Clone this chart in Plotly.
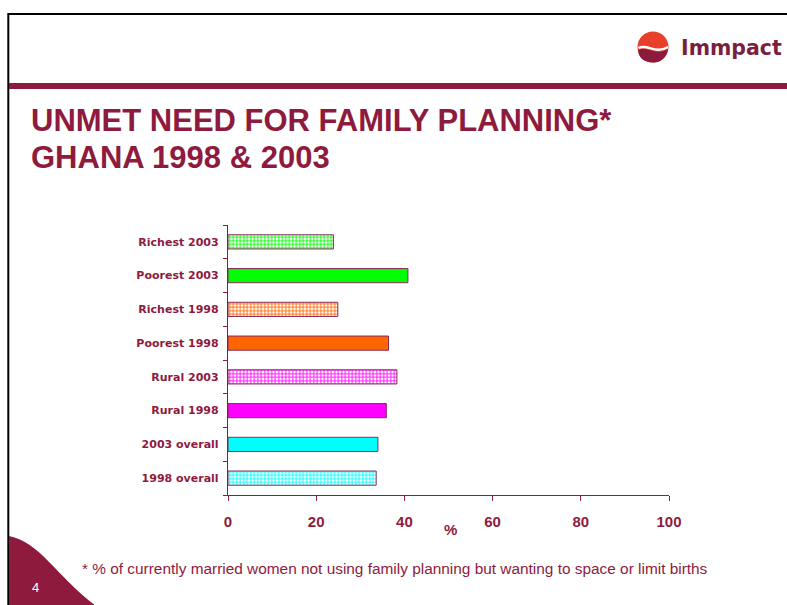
import plotly.graph_objects as go

categories = ["1998 overall", "2003 overall", "Rural 1998", "Rural 2003",
              "Poorest 1998", "Richest 1998", "Poorest 2003", "Richest 2003"]
values = [33.6, 34.0, 35.9, 38.3, 36.4, 24.9, 40.8, 23.9]
bar_colors = ["#00FFFF", "#00FFFF", "#FF00FF", "#FF00FF",
              "#FF6600", "#FF6600", "#00FF00", "#00FF00"]
hatched = [True, False, False, True, False, True, False, True]
x_ticks = [0, 20, 40, 60, 80, 100]

MAROON = "#8E1B3E"
W, H = 787, 605
X0, X1, Y0, Y1 = 228, 669, 225, 495   # plot area in page pixels


def px(x):
    return (x - X0) / (X1 - X0)


def py(y):
    return (Y1 - y) / (Y1 - Y0)


fig = go.Figure()
fig.add_trace(go.Bar(
    y=categories, x=values, orientation="h",
    marker=dict(
        color=bar_colors,
        line=dict(color="#8A2A58", width=1),
        pattern=dict(
            shape=["+" if h else "" for h in hatched],
            fgcolor=bar_colors,
            bgcolor="white",
            size=3.5,
            solidity=0.45,
            fillmode="replace",
        ),
    ),
    width=0.42,
    hoverinfo="x+y",
))

shapes = []
# black frame
shapes.append(dict(type="line", xref="paper", yref="paper", x0=px(8), x1=px(800),
                   y0=py(14), y1=py(14), line=dict(color="black", width=2)))
shapes.append(dict(type="line", xref="paper", yref="paper", x0=px(8.3), x1=px(8.3),
                   y0=py(13), y1=py(620), line=dict(color="black", width=2)))
# maroon band
shapes.append(dict(type="rect", xref="paper", yref="paper", x0=px(9), x1=px(800),
                   y0=py(83), y1=py(89), line=dict(width=0), fillcolor=MAROON))
# bottom-left wave
path = (f"M {px(9)},{py(536)} C {px(40)},{py(542)} {px(55)},{py(575)} {px(96)},{py(606)} "
        f"L {px(9)},{py(620)} Z")
shapes.append(dict(type="path", xref="paper", yref="paper", path=path,
                   fillcolor=MAROON, line=dict(width=0)))
# logo circle
cx, cy, r = 653, 47, 15.5
shapes.append(dict(type="circle", xref="paper", yref="paper",
                   x0=px(cx - r), x1=px(cx + r), y0=py(cy + r), y1=py(cy - r),
                   fillcolor="#E8402A", line=dict(width=0)))
lower = (f"M {px(cx - r + 1)},{py(cy + 3)} C {px(cx - 6)},{py(cy - 2)} {px(cx + 2)},{py(cy + 10)} "
         f"{px(cx + r - 0.5)},{py(cy + 2)} C {px(cx + r - 2)},{py(cy + 12)} {px(cx + 6)},{py(cy + r + 0.5)} "
         f"{px(cx)},{py(cy + r)} C {px(cx - 9)},{py(cy + r)} {px(cx - r)},{py(cy + 10)} {px(cx - r + 1)},{py(cy + 3)} Z")
shapes.append(dict(type="path", xref="paper", yref="paper", path=lower,
                   fillcolor="#8B1A3D", line=dict(width=0)))
swoosh = (f"M {px(cx - r + 1)},{py(cy + 1)} C {px(cx - 6)},{py(cy - 4)} {px(cx + 2)},{py(cy + 8)} "
          f"{px(cx + r - 0.5)},{py(cy)}")
shapes.append(dict(type="path", xref="paper", yref="paper", path=swoosh,
                   line=dict(color="white", width=2.5)))

TITLE_FONT = dict(family="Liberation Sans, Arial", size=31, color=MAROON)
annotations = [
    dict(text="<b>UNMET NEED FOR FAMILY PLANNING*</b>", x=px(29), y=py(120), xanchor="left",
         yanchor="middle", font=TITLE_FONT, showarrow=False, xref="paper", yref="paper"),
    dict(text="<b>GHANA 1998 &amp; 2003</b>", x=px(29), y=py(158), xanchor="left",
         yanchor="middle", font=TITLE_FONT, showarrow=False, xref="paper", yref="paper"),
    dict(text="<b>Immpact</b>", x=px(679), y=py(48), xanchor="left", yanchor="middle",
         font=dict(family="DejaVu Sans", size=20.5, color="#7B1F3F"),
         showarrow=False, xref="paper", yref="paper"),
    dict(text="<b>%</b>", x=px(450), y=py(529), xanchor="center", yanchor="middle",
         font=dict(family="Liberation Sans, Arial", size=15, color=MAROON),
         showarrow=False, xref="paper", yref="paper"),
    dict(text="* % of currently married women not using family planning but wanting to space or limit births",
         x=px(80), y=py(568), xanchor="left", yanchor="middle",
         font=dict(family="Liberation Sans, Arial", size=15.4, color=MAROON),
         showarrow=False, xref="paper", yref="paper"),
    dict(text="4", x=px(35), y=py(587), xanchor="center", yanchor="middle",
         font=dict(family="Liberation Sans, Arial", size=13, color="white"),
         showarrow=False, xref="paper", yref="paper"),
]

fig.update_layout(
    width=W, height=H,
    margin=dict(l=X0, r=W - X1, t=Y0, b=H - Y1, pad=0),
    paper_bgcolor="white", plot_bgcolor="white",
    showlegend=False,
    bargap=0.58,
    shapes=shapes,
    annotations=annotations,
    font=dict(family="Liberation Sans, Arial", color=MAROON),
    xaxis=dict(
        range=[0, 100], tickvals=x_ticks, ticktext=[f"<b>{v}</b>" for v in x_ticks],
        showgrid=False, zeroline=False, showline=True, linecolor=MAROON, linewidth=1.3,
        ticks="outside", ticklen=5, tickcolor=MAROON, tickwidth=1.3,
        ticklabelstandoff=8,
        tickfont=dict(size=15, color=MAROON, family="Liberation Sans, Arial"),
        fixedrange=True,
    ),
    yaxis=dict(
        categoryorder="array", categoryarray=categories,
        ticktext=[f"<b>{c}</b>" for c in categories], tickvals=categories,
        showgrid=False, zeroline=False, showline=True, linecolor=MAROON, linewidth=1.3,
        ticks="outside", ticklen=4, tickcolor=MAROON, tickwidth=1.3,
        tickson="boundaries", ticklabelstandoff=6,
        tickfont=dict(size=11, color=MAROON, family="DejaVu Sans"),
        fixedrange=True,
    ),
)

fig.write_html("out.html",
               config={"displayModeBar": False},
               post_script="document.body.style.margin='0';document.body.style.overflow='hidden';")
